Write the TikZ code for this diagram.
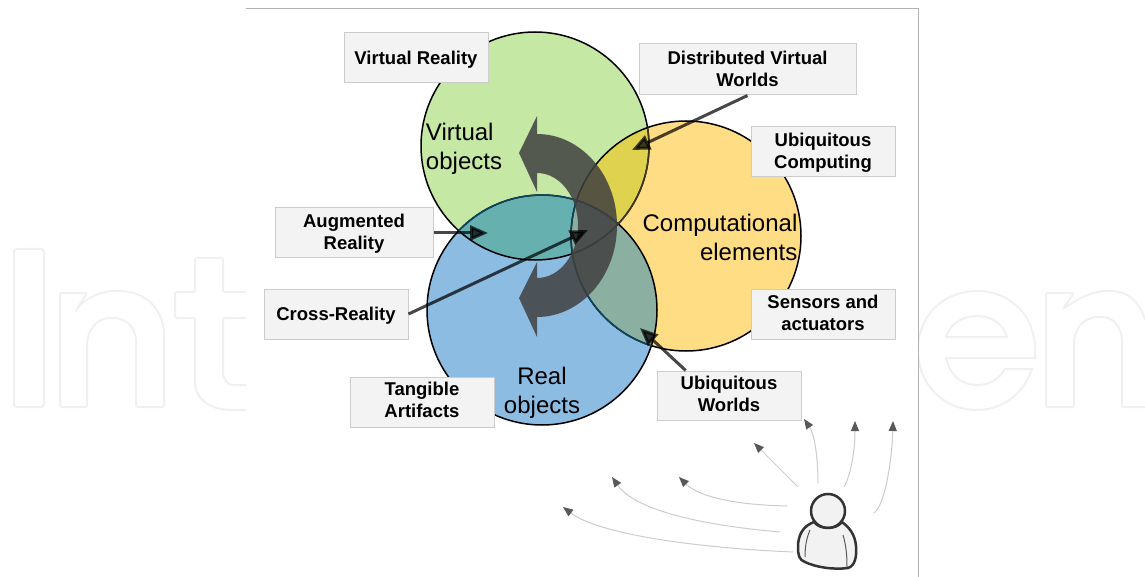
\documentclass[tikz,border=0pt]{standalone}
\usepackage{fontspec}
\setmainfont{Liberation Sans}
\usetikzlibrary{arrows.meta}
\definecolor{boxfill}{HTML}{F3F3F3}
\definecolor{boxline}{HTML}{CCCCCC}
\definecolor{greenfill}{HTML}{C5E8A5}
\definecolor{bluefill}{HTML}{8DBCE3}
\definecolor{yellowfill}{HTML}{FFDD85}
\definecolor{greenblue}{HTML}{66B0B0}
\definecolor{greenyellow}{HTML}{DFD24E}
\definecolor{blueyellow}{HTML}{8BAFA0}
\definecolor{overlapline}{HTML}{0E4560}
\definecolor{markline}{HTML}{F0F0F0}
\definecolor{gazeline}{HTML}{CCCCCC}
\def\greendisc{(535,146) circle (114)}
\def\bluedisc{(542,310) circle (115)}
\def\yellowdisc{(686,236) circle (115)}
\tikzset{
    labelbox/.style={rectangle, fill=boxfill, draw=boxline, line width=1pt, minimum width=144pt, minimum height=50pt, inner sep=0pt, align=center, font=\fontsize{18.5pt}{22pt}\selectfont\bfseries},
    disctext/.style={inner sep=0pt, font=\fontsize{24pt}{29pt}\selectfont},
    pointer/.style={draw=black, opacity=0.72, line width=3pt, -{Triangle[length=18pt, width=15pt, fill=black]}},
    gaze/.style={draw=gazeline, line width=1pt, -{Triangle[length=10pt, width=8pt, color=black!65, fill=black!65]}}
}
\begin{document}
\begin{tikzpicture}[x=1pt, y=-1pt]
    \useasboundingbox (0,0) rectangle (1145,577);
    \draw [markline, line width=2pt, rounded corners=3pt] (14,249) rectangle (44,407);
    \draw [markline, line width=2pt, rounded corners=2pt] (60,293) -- (87,293) -- (77,309) .. controls (87,297) and (102,291) .. (117,291) .. controls (146,291) and (164,310) .. (164,337) -- (164,407) -- (136,407) -- (136,343) .. controls (136,328) and (126,318) .. (112,318) .. controls (97,318) and (87,330) .. (87,347) -- (87,407) -- (60,407) -- cycle;
    \draw [markline, line width=2pt, rounded corners=2pt] (246,292) -- (223,292) -- (223,258) -- (195,258) -- (195,292) -- (175,292) -- (175,318) -- (195,318) -- (195,380) .. controls (195,400) and (212,410) .. (233,410) -- (246,410);
    \draw [markline, line width=2pt, rounded corners=2pt] (246,385) -- (235,385) .. controls (228,385) and (223,380) .. (223,370) -- (223,318) -- (246,318);
    \draw [markline, line width=2pt] (1035,358) -- (946,358) .. controls (950,376) and (962,385) .. (977,385) .. controls (990,385) and (999,379) .. (1005,369) -- (1032,369) .. controls (1024,393) and (1003,410) .. (977,410) .. controls (943,410) and (918,384) .. (918,350) .. controls (918,316) and (943,291) .. (977,291) .. controls (1011,291) and (1035,316) .. (1035,350) -- cycle;
    \draw [markline, line width=2pt] (946,337) -- (1007,337) .. controls (1003,324) and (992,316) .. (977,316) .. controls (962,316) and (950,324) .. (946,337) -- cycle;
    \draw [markline, line width=2pt, rounded corners=2pt] (1145,320) .. controls (1140,302) and (1127,291) .. (1110,291) .. controls (1092,291) and (1079,298) .. (1063,309) -- (1074,293) -- (1046,293) -- (1046,407) -- (1074,407) -- (1074,345) .. controls (1074,328) and (1085,317) .. (1100,317) .. controls (1114,317) and (1122,328) .. (1122,343) -- (1122,407) -- (1145,407);
    \fill [white] (246,9) rectangle (918,577);
    \draw [black!30, line width=1pt] (246,9) -- (918,9) -- (918,577);
    \fill [greenfill] \greendisc;
    \fill [bluefill] \bluedisc;
    \fill [yellowfill] \yellowdisc;
    \begin{scope}
        \clip \greendisc;
        \fill [greenblue] \bluedisc;
        \fill [greenyellow] \yellowdisc;
    \end{scope}
    \begin{scope}
        \clip \bluedisc;
        \fill [blueyellow] \yellowdisc;
    \end{scope}
    \draw [black, line width=1.5pt] \greendisc;
    \draw [black, line width=1.5pt] \bluedisc;
    \draw [black, line width=1.5pt] \yellowdisc;
    \begin{scope}
        \clip \yellowdisc;
        \draw [black!75!yellowfill, line width=1.5pt] \greendisc;
    \end{scope}
    \begin{scope}
        \clip \greendisc;
        \draw [overlapline, line width=1.5pt] \bluedisc;
    \end{scope}
    \begin{scope}
        \clip \bluedisc;
        \draw [overlapline, line width=1.5pt] \yellowdisc;
    \end{scope}
    \fill [black!75, opacity=0.85] (537,134) .. controls (581,134) and (617,175) .. (617,225.5) .. controls (617,276) and (581,317) .. (537,317) -- (537,337) -- (519,298) -- (537,262) -- (537,278) .. controls (560,278) and (578,254) .. (578,225.5) .. controls (578,197) and (560,173) .. (537,173) -- (537,192) -- (519,153) -- (537,116) -- cycle;
    \node (VO) [disctext, align=left] at (464,149) {Virtual\\objects};
    \node (CE) [disctext, align=right] at (720,237) {Computational\\elements};
    \node (RO) [disctext, align=center] at (542,393) {Real\\objects};
    \node (VR) [labelbox, text height=16.4pt, text depth=3.9pt] at (416,58) {Virtual Reality};
    \node (DVW) [labelbox, minimum width=217pt, minimum height=51pt, text depth=2pt] at (747.5,69.5) {Distributed Virtual\\Worlds};
    \node (UC) [labelbox, text depth=1.9pt] at (823,152) {Ubiquitous\\Computing};
    \node (SA) [labelbox, text depth=2pt] at (823,314) {Sensors and\\actuators};
    \node (AR) [labelbox, minimum width=158pt, text depth=1.9pt] at (354,233) {Augmented\\Reality};
    \node (XR) [labelbox, text height=16.4pt, text depth=3.9pt] at (336,314) {Cross-Reality};
    \node (TA) [labelbox, text depth=4pt] at (422,402) {Tangible\\Artifacts};
    \node (UW) [labelbox, minimum height=49pt, text depth=4pt] at (729,395.5) {Ubiquitous\\Worlds};
    \coordinate (dvwtip) at (632,150);
    \coordinate (artip) at (488,233);
    \coordinate (xrtip) at (588,230);
    \coordinate (uwtip) at (640,328);
    \draw [pointer] (DVW.south) -- (dvwtip);
    \draw [pointer] (AR.east) -- (artip);
    \draw [pointer] (XR.east) -- (xrtip);
    \draw [pointer] (UW.150) -- (uwtip);
    \node (H) [circle, draw=black!80, fill=black!5, line width=2.5pt, minimum size=34pt, inner sep=0pt] at (828,511) {};
    \draw [black!80, fill=black!5, line width=2.5pt, line join=round] (814,522) .. controls (803,526) and (798,535) .. (798,547) .. controls (798,555) and (799,560) .. (805,562) .. controls (815,567) and (833,570) .. (848,568) .. controls (855,566) and (857,556) .. (856,546) .. controls (855,535) and (850,528) .. (842,522) .. controls (836,530) and (820,530) .. (814,522) -- cycle;
    \draw [black!65, line width=1pt] (805,557) .. controls (805,545) and (807,537) .. (810,530);
    \draw [black!65, line width=1pt] (847,567) .. controls (847,555) and (846,545) .. (843,535);
    \coordinate (g1s) at (793,552);
    \coordinate (g1t) at (563,507);
    \coordinate (g2s) at (780,532);
    \coordinate (g2t) at (612,477);
    \coordinate (g3s) at (787,506);
    \coordinate (g3t) at (679,477);
    \coordinate (g4s) at (798,487);
    \coordinate (g4t) at (754,443);
    \coordinate (g5s) at (818,483);
    \coordinate (g5t) at (804,419);
    \coordinate (g6s) at (844,487);
    \coordinate (g6t) at (855,421);
    \coordinate (g7s) at (874,513);
    \coordinate (g7t) at (893,421);
    \draw [gaze] (g1s) .. controls (700,548) and (600,535) .. (g1t);
    \draw [gaze] (g2s) .. controls (700,525) and (635,510) .. (g2t);
    \draw [gaze] (g3s) .. controls (740,505) and (700,498) .. (g3t);
    \draw [gaze] (g4s) -- (g4t);
    \draw [gaze] (g5s) .. controls (818,460) and (815,435) .. (g5t);
    \draw [gaze] (g6s) .. controls (851,475) and (855,450) .. (g6t);
    \draw [gaze] (g7s) .. controls (885,505) and (892,460) .. (g7t);
\end{tikzpicture}
\end{document}
